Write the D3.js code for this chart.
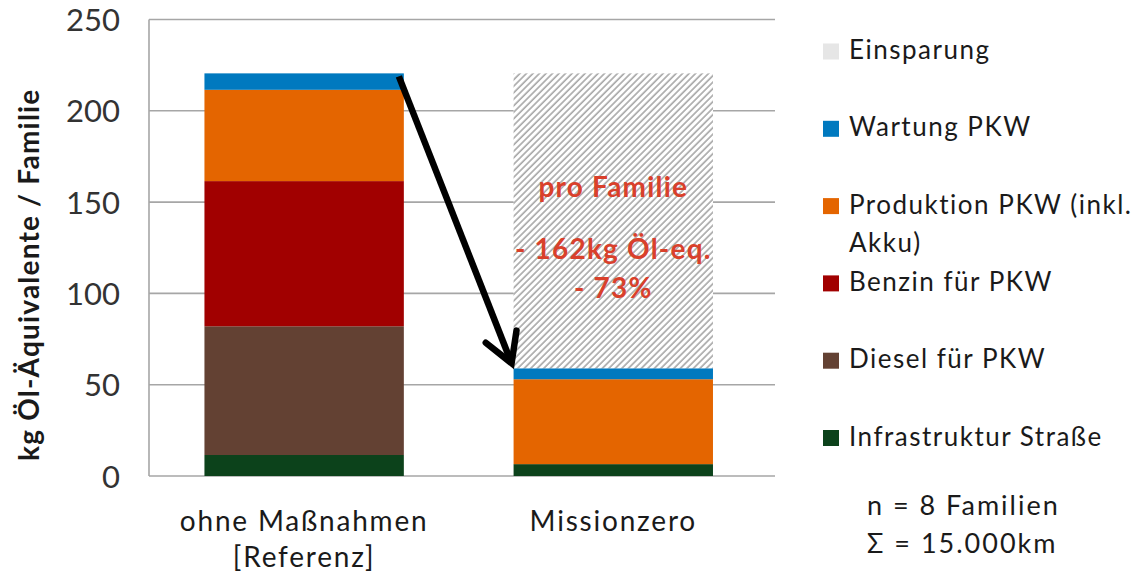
<!DOCTYPE html>
<html>
<head>
<meta charset="utf-8">
<script src="https://cdn.jsdelivr.net/npm/d3@7"></script>
<style>
  html, body { margin: 0; padding: 0; background: #ffffff; }
  svg { display: block; }
  text { font-family: Lato, "Open Sans", sans-serif; }
</style>
</head>
<body>
<svg id="chart" width="1148" height="575"></svg>
<script>
// ---- data ----
const categories = ["ohne Maßnahmen [Referenz]", "Missionzero"];
const categoryLines = [["ohne Maßnahmen", "[Referenz]"], ["Missionzero"]];
const seriesNames = ["Infrastruktur Straße", "Diesel für PKW", "Benzin für PKW",
                     "Produktion PKW (inkl. Akku)", "Wartung PKW", "Einsparung"];
const infrastruktur = [11.5, 6.5];
const diesel = [70.5, 0];
const benzin = [79.5, 0];
const produktion = [50, 46.5];
const wartung = [9, 6];
const einsparung = [0, 161.5];
const yTicks = [0, 50, 100, 150, 200, 250];
const yTitle = "kg Öl-Äquivalente / Familie";
const annotationLines = ["pro Familie", "- 162kg Öl-eq.", "- 73%"];
const noteLines = ["n = 8 Familien", "Σ = 15.000km"];

// ---- layout ----
const svg = d3.select("#chart");
const plot = { left: 149, right: 775, top: 19.5, bottom: 476 };
const colors = ["#0C421B", "#634133", "#A10000", "#E46500", "#0079BF", "url(#hatch)"];
const legendColors = ["#0C421B", "#634133", "#A10000", "#E46500", "#0079BF", "#E6E6E6"];

const x = d3.scaleBand().domain(categories).range([plot.left, plot.right])
  .paddingInner(0.355).paddingOuter(0.19).align(0.472);
const y = d3.scaleLinear().domain([0, 250]).range([plot.bottom, plot.top]);

// hatch pattern
const defs = svg.append("defs");
const pat = defs.append("pattern").attr("id", "hatch").attr("patternUnits", "userSpaceOnUse")
  .attr("width", 4.6).attr("height", 4.6).attr("patternTransform", "rotate(45)");
pat.append("rect").attr("width", 4.6).attr("height", 4.6).attr("fill", "#ffffff");
pat.append("line").attr("x1", 1).attr("y1", 0).attr("x2", 1).attr("y2", 4.6)
  .attr("stroke", "#9a9a9a").attr("stroke-width", 1.4);

// gridlines
svg.append("g").selectAll("line").data(yTicks).join("line")
  .attr("x1", plot.left).attr("x2", plot.right)
  .attr("y1", d => y(d)).attr("y2", d => y(d))
  .attr("stroke", "#A6A6A6").attr("stroke-width", 1.6);

// stacked data
const rows = categories.map((c, i) => ({
  cat: c,
  s0: infrastruktur[i], s1: diesel[i], s2: benzin[i], s3: produktion[i], s4: wartung[i], s5: einsparung[i]
}));
const stack = d3.stack().keys(["s0", "s1", "s2", "s3", "s4", "s5"]);
const stacked = stack(rows);

svg.append("g").selectAll("g").data(stacked).join("g")
  .attr("fill", (d, i) => colors[i])
  .selectAll("rect").data(d => d).join("rect")
  .attr("x", d => x(d.data.cat))
  .attr("width", x.bandwidth())
  .attr("y", d => y(d[1]))
  .attr("height", d => Math.max(0, y(d[0]) - y(d[1])));

// y axis line
svg.append("line").attr("x1", plot.left).attr("x2", plot.left)
  .attr("y1", plot.top).attr("y2", plot.bottom)
  .attr("stroke", "#A6A6A6").attr("stroke-width", 1.6);

// y axis labels via d3 axis
const yAxis = d3.axisLeft(y).tickValues(yTicks).tickSize(0).tickPadding(29);
const gy = svg.append("g").attr("transform", `translate(${plot.left},0)`).call(yAxis);
gy.select(".domain").remove();
gy.selectAll("text").attr("font-family", "Lato, sans-serif").attr("font-size", 31)
  .attr("fill", "#333333").attr("dy", "0.36em");

// y title
svg.append("text")
  .attr("transform", `translate(39,${(plot.top + plot.bottom) / 2 + 27}) rotate(-90)`)
  .attr("text-anchor", "middle").attr("font-weight", "bold").attr("font-size", 28)
  .attr("letter-spacing", 1.2)
  .attr("fill", "#1a1a1a").text(yTitle);

// x labels
const gx = svg.append("g");
categoryLines.forEach((lines, i) => {
  const cx = x(categories[i]) + x.bandwidth() / 2;
  lines.forEach((ln, j) => {
    gx.append("text").attr("x", cx).attr("y", 531 + j * 36)
      .attr("text-anchor", "middle").attr("font-size", 28).attr("letter-spacing", 1.8)
      .attr("fill", "#1a1a1a").text(ln);
  });
});

// annotation in Einsparung segment
const cx2 = x(categories[1]) + x.bandwidth() / 2;
const annY = [197, 259, 298];
annotationLines.forEach((t, j) => {
  svg.append("text").attr("x", cx2).attr("y", annY[j]).attr("text-anchor", "middle")
    .attr("font-weight", "bold").attr("font-size", 28).attr("letter-spacing", 1.2)
    .attr("fill", "#D9402B").text(t);
});

// arrow from top of reference bar to top of Missionzero bar
const total = i => infrastruktur[i] + diesel[i] + benzin[i] + produktion[i] + wartung[i];
const x0 = x(categories[0]) + x.bandwidth() - 5, y0 = y(total(0)) + 3;
const x1 = x(categories[1]) - 2, y1 = y(total(1)) - 5;
const ang = Math.atan2(y1 - y0, x1 - x0);
const armLen = 33, spread = Math.PI / 6;
const a1 = [x1 - armLen * Math.cos(ang - spread), y1 - armLen * Math.sin(ang - spread)];
const a2 = [x1 - armLen * Math.cos(ang + spread), y1 - armLen * Math.sin(ang + spread)];
svg.append("line").attr("x1", x0).attr("y1", y0).attr("x2", x1 - 3 * Math.cos(ang)).attr("y2", y1 - 3 * Math.sin(ang))
  .attr("stroke", "#000").attr("stroke-width", 6.5);
svg.append("path").attr("d", `M${a1[0]},${a1[1]} L${x1},${y1} L${a2[0]},${a2[1]}`)
  .attr("fill", "none").attr("stroke", "#000").attr("stroke-width", 6.5)
  .attr("stroke-linejoin", "miter").attr("stroke-linecap", "round");

// legend (reverse order)
const legend = svg.append("g");
const legendOrder = [5, 4, 3, 2, 1, 0];
const legendLabelLines = {
  3: ["Produktion PKW (inkl.", "Akku)"]
};
legendOrder.forEach((si, k) => {
  const by = 59 + 77.3 * k;
  legend.append("rect").attr("x", 823).attr("y", by - 15.5).attr("width", 16).attr("height", 16)
    .attr("fill", legendColors[si]);
  const lines = legendLabelLines[si] || [seriesNames[si]];
  lines.forEach((ln, j) => {
    legend.append("text").attr("x", 849).attr("y", by + j * 38)
      .attr("font-size", 26).attr("letter-spacing", 1.5).attr("fill", "#1a1a1a").text(ln);
  });
});

// note
noteLines.forEach((t, j) => {
  svg.append("text").attr("x", 867).attr("y", 515 + j * 38)
    .attr("font-size", 27).attr("letter-spacing", 2).attr("fill", "#1a1a1a").text(t);
});
</script>
</body>
</html>
